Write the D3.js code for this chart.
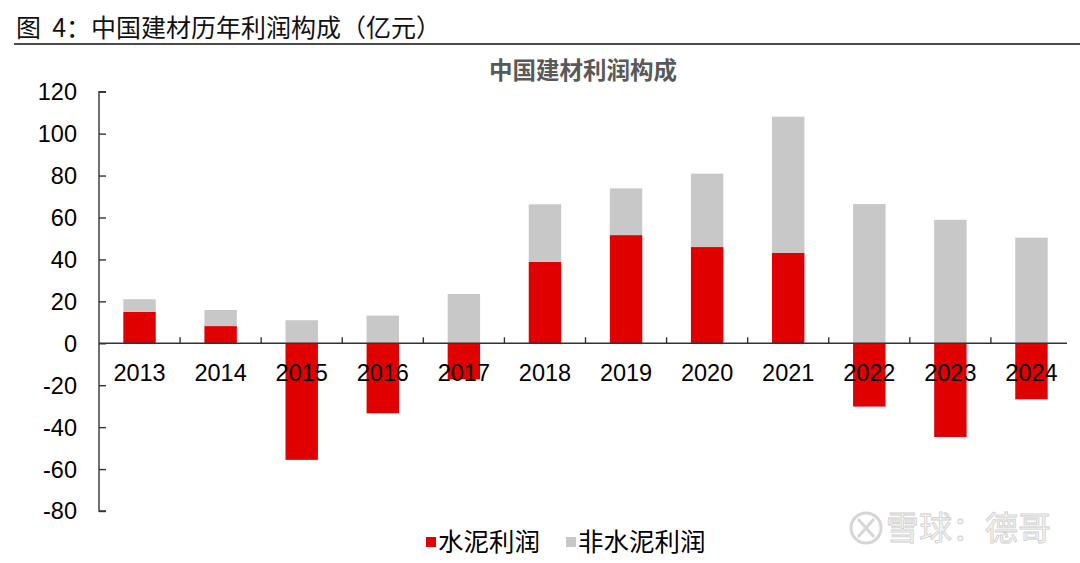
<!DOCTYPE html>
<html>
<head>
<meta charset="utf-8">
<script src="https://cdn.jsdelivr.net/npm/d3@7"></script>
<style>
  html, body { margin: 0; padding: 0; background: #fff; }
  svg { display: block; }
</style>
</head>
<body>
<svg id="chart" width="1080" height="563"></svg>
<script>
const years = ["2013","2014","2015","2016","2017","2018","2019","2020","2021","2022","2023","2024"];
const cementProfit = [15, 8.2, -55.6, -33.4, -17.2, 38.8, 51.6, 45.9, 43.2, -30.2, -44.7, -26.7];
const nonCementProfit = [6, 7.7, 11, 13.2, 23.5, 27.5, 22.3, 35, 64.9, 66.4, 58.9, 50.4];
const seriesNames = ["水泥利润", "非水泥利润"];
const seriesColors = ["#e00000", "#c8c8c8"];
const yTicks = [-80, -60, -40, -20, 0, 20, 40, 60, 80, 100, 120];
const figureTitle = "图  4：中国建材历年利润构成（亿元）";
const chartTitle = "中国建材利润构成";
const watermark = "雪球：德哥";

const svg = d3.select("#chart");
const cjk = "'Noto Sans CJK SC', 'Noto Sans', sans-serif";
const num = "'Liberation Sans', Arial, sans-serif";

// figure title + rule
svg.append("text").attr("x", 16).attr("y", 37)
  .attr("font-family", cjk).attr("font-size", 25).attr("fill", "#111")
  .style("white-space", "pre")
  .text(figureTitle);
svg.append("line").attr("x1", 14).attr("x2", 1080).attr("y1", 44).attr("y2", 44)
  .attr("stroke", "#111").attr("stroke-width", 1.6);

// chart title
svg.append("text").attr("x", 583).attr("y", 79).attr("text-anchor", "middle")
  .attr("font-family", cjk).attr("font-size", 23.5).attr("font-weight", "bold").attr("fill", "#595959")
  .text(chartTitle);

const x0 = 99, x1 = 1072;
const x = d3.scaleBand().domain(years).range([x0, x1]).paddingInner(0.6).paddingOuter(0.3);
const y = d3.scaleLinear().domain([-80, 120]).range([511, 91.7]);

const table = years.map((yr, i) => ({ year: yr, "水泥利润": cementProfit[i], "非水泥利润": nonCementProfit[i] }));
const stack = d3.stack().keys(seriesNames).offset(d3.stackOffsetDiverging);
const stacked = stack(table);

const g = svg.append("g");
stacked.forEach((s, si) => {
  g.selectAll(null).data(s).enter().append("rect")
    .attr("x", d => x(d.data.year))
    .attr("width", x.bandwidth())
    .attr("y", d => y(Math.max(d[0], d[1])))
    .attr("height", d => Math.abs(y(d[0]) - y(d[1])))
    .attr("fill", seriesColors[si]);
});

// y axis
const yAxis = d3.axisRight(y).tickValues(yTicks).tickSize(7).tickFormat("");
const ya = svg.append("g").attr("transform", `translate(${x0},0)`).call(yAxis);
ya.select(".domain").attr("stroke", "#333").attr("stroke-width", 1.4).attr("d", `M7,${y(120)}H0V${y(-80)}H7`);
ya.selectAll(".tick line").attr("stroke", "#333").attr("stroke-width", 1.4);
svg.append("g").selectAll("text").data(yTicks).enter().append("text")
  .attr("x", 77).attr("y", d => y(d)).attr("dy", "0.36em").attr("text-anchor", "end")
  .attr("font-family", num).attr("font-size", 23.5).attr("fill", "#000")
  .text(d => d);

// zero line with category ticks
const zl = svg.append("g");
zl.append("line").attr("x1", x0).attr("x2", 1067).attr("y1", y(0)).attr("y2", y(0))
  .attr("stroke", "#333").attr("stroke-width", 1.6);
const step = x.step();
const bounds = years.slice(1).map(yr => x(yr) - (step - x.bandwidth()) / 2);
zl.selectAll(null).data(bounds).enter().append("line")
  .attr("x1", d => d).attr("x2", d => d).attr("y1", y(0)).attr("y2", y(0) - 6)
  .attr("stroke", "#333").attr("stroke-width", 1.4);

// x labels
svg.append("g").selectAll("text").data(years).enter().append("text")
  .attr("x", d => x(d) + x.bandwidth() / 2).attr("y", 381).attr("text-anchor", "middle")
  .attr("font-family", num).attr("font-size", 23.5).attr("fill", "#000")
  .text(d => d);

// legend
const legendX = [426, 566];
seriesNames.forEach((n, i) => {
  svg.append("rect").attr("x", legendX[i]).attr("y", 537).attr("width", 10).attr("height", 10)
    .attr("fill", seriesColors[i]);
  svg.append("text").attr("x", legendX[i] + 12).attr("y", 551)
    .attr("font-family", cjk).attr("font-size", 25.5).attr("fill", "#000")
    .text(n);
});

// watermark
const wm = svg.append("g");
wm.append("circle").attr("cx", 866).attr("cy", 528).attr("r", 15)
  .attr("fill", "none").attr("stroke", "#d6d6d6").attr("stroke-width", 3);
wm.append("path").attr("d", "M858,519 Q866,528 874,537 M874,519 Q866,528 858,537")
  .attr("fill", "none").attr("stroke", "#d6d6d6").attr("stroke-width", 3);
wm.append("text").attr("x", 886).attr("y", 540)
  .attr("font-family", cjk).attr("font-size", 33).attr("fill", "#f4f4f4")
  .attr("stroke", "#cfcfcf").attr("stroke-width", 0.8)
  .text(watermark);
</script>
</body>
</html>
